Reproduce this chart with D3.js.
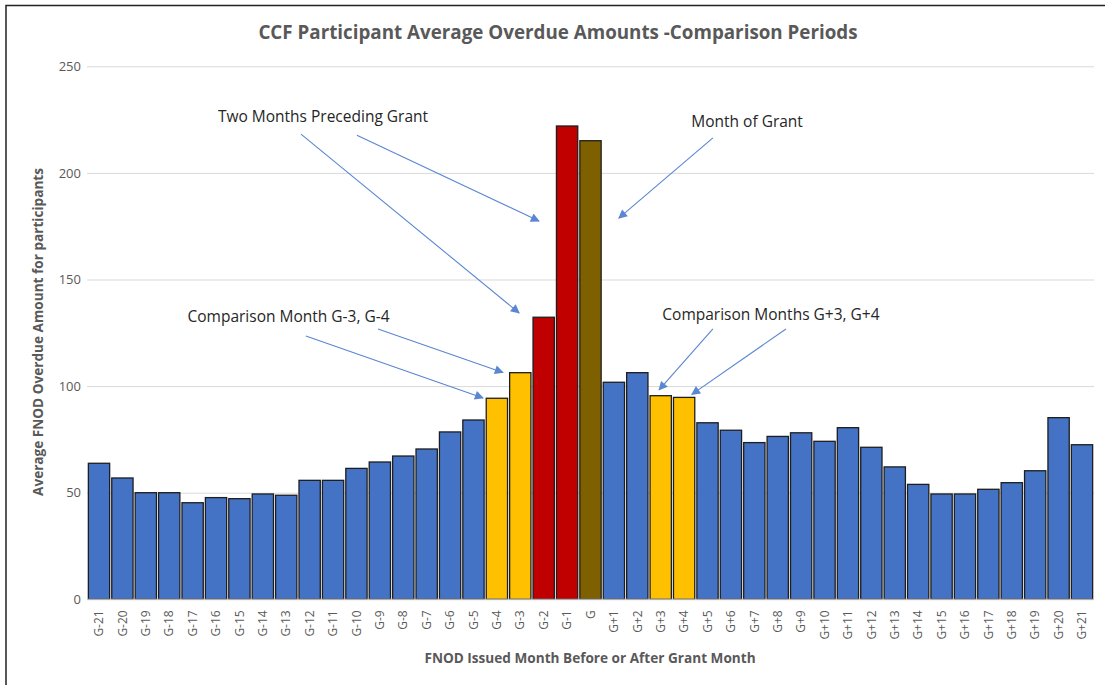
<!DOCTYPE html>
<html>
<head>
<meta charset="utf-8">
<script src="https://cdn.jsdelivr.net/npm/d3@7"></script>
<style>
  body { margin: 0; background: #fff; }
  svg { font-family: "Open Sans", sans-serif; }
</style>
</head>
<body>
<svg id="chart" width="1105" height="685"></svg>
<script>
// categories, G-21 .. G .. G+21
const months = [
    'G-21', 'G-20', 'G-19', 'G-18', 'G-17', 'G-16', 'G-15', 'G-14', 'G-13', 'G-12', 'G-11',
    'G-10', 'G-9', 'G-8', 'G-7', 'G-6', 'G-5', 'G-4', 'G-3', 'G-2', 'G-1', 'G',
    'G+1', 'G+2', 'G+3', 'G+4', 'G+5', 'G+6', 'G+7', 'G+8', 'G+9', 'G+10', 'G+11',
    'G+12', 'G+13', 'G+14', 'G+15', 'G+16', 'G+17', 'G+18', 'G+19', 'G+20', 'G+21'
];
const overdue = [
    63.8, 56.9, 50.0, 50.0, 45.3, 47.7, 47.2, 49.4, 48.8, 55.8, 55.8,
    61.4, 64.4, 67.2, 70.5, 78.5, 84.1, 94.3, 106.3, 132.3, 222.0, 215.1,
    101.8, 106.3, 95.5, 94.7, 82.8, 79.3, 73.5, 76.4, 78.1, 74.1, 80.5,
    71.3, 62.1, 53.9, 49.4, 49.4, 51.6, 54.7, 60.3, 85.2, 72.5
];
// which group each month belongs to
const comparison = ['G-4', 'G-3', 'G+3', 'G+4'];
const preceding = ['G-2', 'G-1'];
const grantMonth = ['G'];
const yTicks = [0, 50, 100, 150, 200, 250];

// annotations: k = fractional category index, v = value
const notes = [
    { text: 'Two Months Preceding Grant', k: 9.57, v: 224.1 },
    { text: 'Month of Grant', k: 27.69, v: 221.3 },
    { text: 'Comparison Month G-3, G-4', k: 8.10, v: 130.1 },
    { text: 'Comparison Months G+3, G+4', k: 28.71, v: 131.2 }
];
const arrows = [
    { k0: 8.63, v0: 218.2, k1: 17.95, v1: 134.3 },
    { k0: 11.02, v0: 217.7, k1: 18.80, v1: 177.4 },
    { k0: 26.23, v0: 216.4, k1: 22.21, v1: 178.8 },
    { k0: 8.84, v0: 123.5, k1: 16.41, v1: 94.4 },
    { k0: 11.92, v0: 126.8, k1: 17.26, v1: 106.4 },
    { k0: 26.23, v0: 126.8, k1: 23.93, v1: 98.2 },
    { k0: 29.35, v0: 126.8, k1: 25.33, v1: 96.1 }
];

const svg = d3.select('#chart');
const grey = '#595959';

// outer chart frame
svg.append('rect')
    .attr('x', 6).attr('y', 5.5)
    .attr('width', 1110).attr('height', 700)
    .attr('fill', 'none')
    .attr('stroke', '#222')
    .attr('stroke-width', 1.5);

let x = d3.scaleBand()
    .domain(months)
    .range([87.3, 1093.7])
    .paddingInner(0.09)
    .paddingOuter(0.045);

let y = d3.scaleLinear()
    .domain([0, 250])
    .range([599.3, 66.3]);

// center of a fractional category index
let xAt = k => x(months[0]) + x.bandwidth() / 2 + x.step() * k;

// gridlines + y labels
let yAxis = svg.append('g')
    .attr('transform', 'translate(87,0)')
    .call(d3.axisLeft(y).tickValues(yTicks).tickSize(-1007).tickPadding(6).tickFormat(d3.format('d')));
yAxis.select('.domain').remove();
yAxis.selectAll('.tick line').attr('stroke', '#d9d9d9').attr('stroke-width', 1);
yAxis.selectAll('.tick text')
    .attr('fill', grey)
    .style('font-size', '13px')
    .style('font-family', '"Open Sans", sans-serif');

function barColor(m) {
    if (comparison.includes(m)) return '#ffc000';
    if (preceding.includes(m)) return '#c00000';
    if (grantMonth.includes(m)) return '#7f6000';
    return '#4472c4';
}

svg.append('g')
    .selectAll('rect')
    .data(months)
    .enter().append('rect')
    .attr('x', d => x(d))
    .attr('y', (d, i) => y(overdue[i]))
    .attr('width', x.bandwidth())
    .attr('height', (d, i) => y(0) - y(overdue[i]))
    .attr('fill', d => barColor(d))
    .attr('stroke', '#1e1e1e')
    .attr('stroke-width', 1.3);

// baseline
svg.append('line')
    .attr('x1', 87).attr('x2', 1094)
    .attr('y1', y(0)).attr('y2', y(0))
    .attr('stroke', '#d0d0d0');

// x labels
let xAxis = svg.append('g')
    .attr('transform', `translate(0,${y(0)})`)
    .call(d3.axisBottom(x).tickSize(0).tickPadding(0));
xAxis.select('.domain').remove();
xAxis.selectAll('.tick text')
    .attr('fill', grey)
    .style('font-size', '12px')
    .style('font-family', '"Open Sans", sans-serif')
    .attr('transform', 'rotate(-90)')
    .attr('text-anchor', 'end')
    .attr('x', -11)
    .attr('y', 0)
    .attr('dy', '0.35em');

// titles
svg.append('text')
    .attr('x', 558).attr('y', 39)
    .attr('text-anchor', 'middle')
    .attr('fill', grey)
    .style('font-size', '18.8px')
    .style('font-weight', 'bold')
    .text('CCF Participant Average Overdue Amounts -Comparison Periods');

svg.append('text')
    .attr('transform', 'translate(43,332) rotate(-90)')
    .attr('text-anchor', 'middle')
    .attr('fill', grey)
    .style('font-size', '13.6px')
    .style('font-weight', 'bold')
    .text('Average FNOD Overdue Amount for participants');

svg.append('text')
    .attr('x', 590).attr('y', 663)
    .attr('text-anchor', 'middle')
    .attr('fill', grey)
    .style('font-size', '13.6px')
    .style('font-weight', 'bold')
    .text('FNOD Issued Month Before or After Grant Month');

// arrows
const arrowBlue = '#5a86d2';
svg.append('defs').append('marker')
    .attr('id', 'head')
    .attr('viewBox', '0 0 10 10')
    .attr('refX', 9).attr('refY', 5)
    .attr('markerWidth', 11).attr('markerHeight', 9)
    .attr('markerUnits', 'userSpaceOnUse')
    .attr('orient', 'auto')
    .append('path')
    .attr('d', 'M0,0 L10,5 L0,10 Z')
    .attr('fill', arrowBlue);

svg.append('g')
    .selectAll('line')
    .data(arrows)
    .enter().append('line')
    .attr('x1', d => xAt(d.k0)).attr('y1', d => y(d.v0))
    .attr('x2', d => xAt(d.k1)).attr('y2', d => y(d.v1))
    .attr('stroke', arrowBlue)
    .attr('stroke-width', 1.1)
    .attr('marker-end', 'url(#head)');

svg.append('g')
    .selectAll('text')
    .data(notes)
    .enter().append('text')
    .attr('x', d => xAt(d.k))
    .attr('y', d => y(d.v))
    .attr('text-anchor', 'middle')
    .attr('fill', '#262626')
    .style('font-size', '15.5px')
    .text(d => d.text);
</script>
</body>
</html>
